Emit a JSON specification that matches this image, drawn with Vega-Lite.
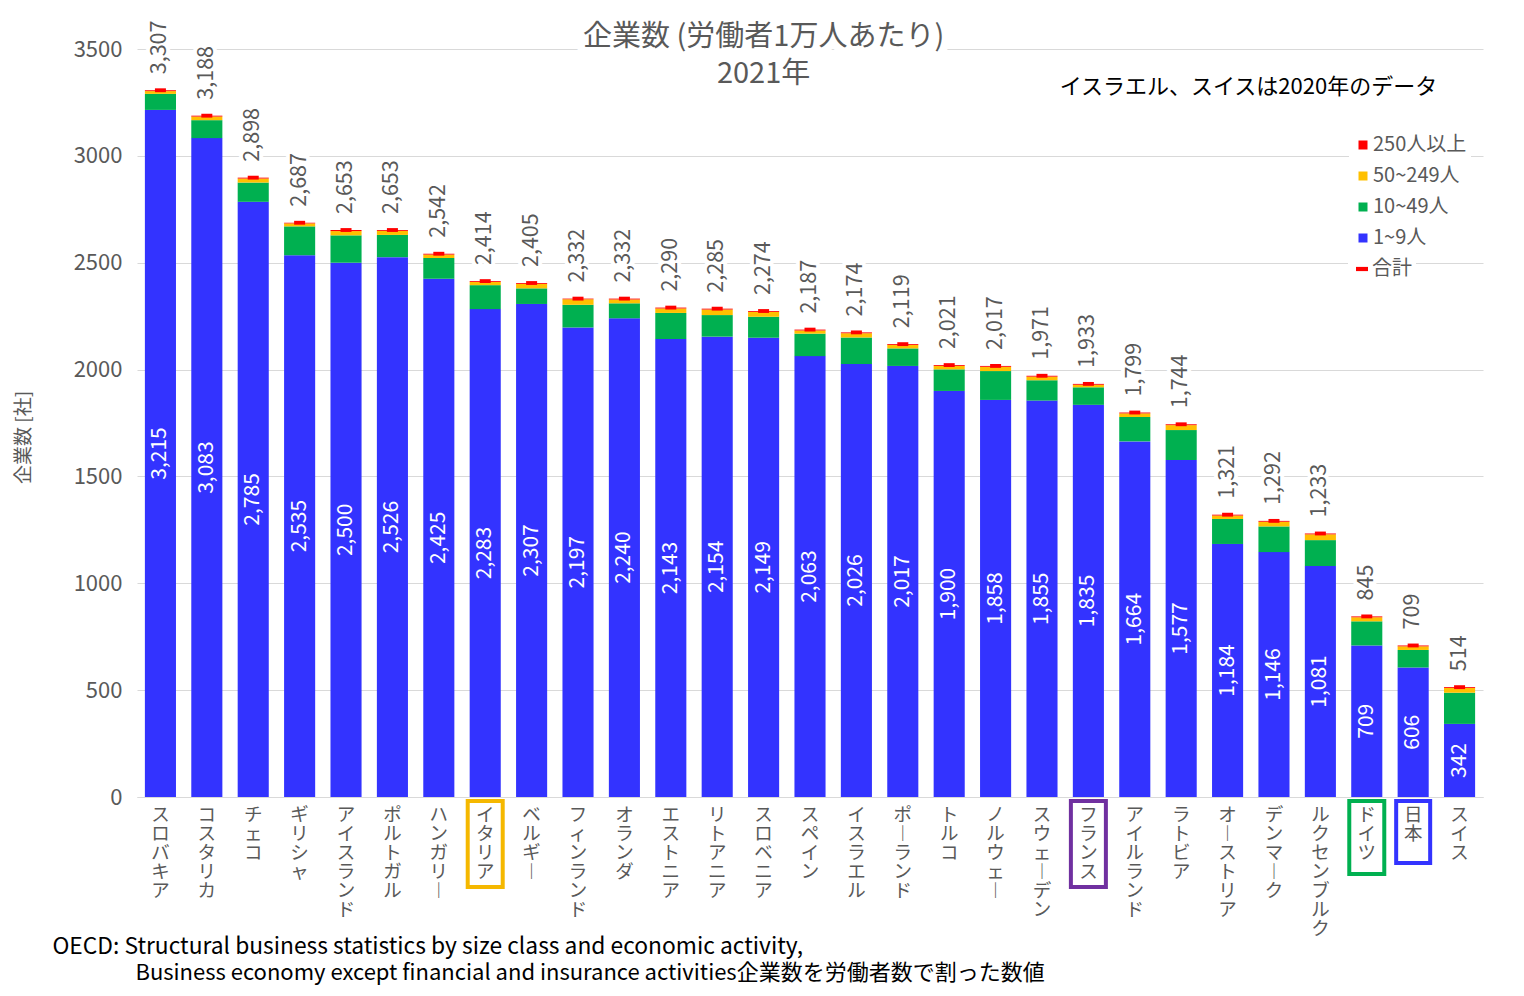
{
  "$schema": "https://vega.github.io/schema/vega-lite/v6.json",
  "width": 1346,
  "height": 748,
  "autosize": {"type": "none"},
  "padding": {"left": 137, "top": 49, "right": 41, "bottom": 199},
  "background": "white",
  "config": {
    "font": "Noto Sans CJK JP",
    "view": {"stroke": null},
    "axis": {"labelColor": "#595959", "titleColor": "#595959"}
  },
  "datasets": {
    "main": [
      {"country":"スロバキア","s1":3215,"s10":75,"s50":13,"s250":4,"total":3307},
      {"country":"コスタリカ","s1":3083,"s10":84,"s50":17,"s250":4,"total":3188},
      {"country":"チェコ","s1":2785,"s10":90,"s50":19,"s250":4,"total":2898},
      {"country":"ギリシャ","s1":2535,"s10":135,"s50":14,"s250":3,"total":2687},
      {"country":"アイスランド","s1":2500,"s10":128,"s50":20,"s250":5,"total":2653},
      {"country":"ポルトガル","s1":2526,"s10":104,"s50":19,"s250":4,"total":2653},
      {"country":"ハンガリー","s1":2425,"s10":97,"s50":16,"s250":4,"total":2542},
      {"country":"イタリア","s1":2283,"s10":112,"s50":15,"s250":4,"total":2414},
      {"country":"ベルギー","s1":2307,"s10":73,"s50":21,"s250":4,"total":2405},
      {"country":"フィンランド","s1":2197,"s10":106,"s50":26,"s250":3,"total":2332},
      {"country":"オランダ","s1":2240,"s10":70,"s50":18,"s250":4,"total":2332},
      {"country":"エストニア","s1":2143,"s10":122,"s50":21,"s250":4,"total":2290},
      {"country":"リトアニア","s1":2154,"s10":101,"s50":26,"s250":4,"total":2285},
      {"country":"スロベニア","s1":2149,"s10":98,"s50":23,"s250":4,"total":2274},
      {"country":"スペイン","s1":2063,"s10":105,"s50":15,"s250":4,"total":2187},
      {"country":"イスラエル","s1":2026,"s10":124,"s50":20,"s250":4,"total":2174},
      {"country":"ポーランド","s1":2017,"s10":82,"s50":16,"s250":4,"total":2119},
      {"country":"トルコ","s1":1900,"s10":101,"s50":16,"s250":4,"total":2021},
      {"country":"ノルウェー","s1":1858,"s10":135,"s50":20,"s250":4,"total":2017},
      {"country":"スウェーデン","s1":1855,"s10":95,"s50":17,"s250":4,"total":1971},
      {"country":"フランス","s1":1835,"s10":82,"s50":12,"s250":4,"total":1933},
      {"country":"アイルランド","s1":1664,"s10":114,"s50":17,"s250":4,"total":1799},
      {"country":"ラトビア","s1":1577,"s10":140,"s50":23,"s250":4,"total":1744},
      {"country":"オーストリア","s1":1184,"s10":117,"s50":16,"s250":4,"total":1321},
      {"country":"デンマーク","s1":1146,"s10":120,"s50":22,"s250":4,"total":1292},
      {"country":"ルクセンブルク","s1":1081,"s10":121,"s50":27,"s250":4,"total":1233},
      {"country":"ドイツ","s1":709,"s10":113,"s50":19,"s250":4,"total":845},
      {"country":"日本","s1":606,"s10":82,"s50":17,"s250":4,"total":709},
      {"country":"スイス","s1":342,"s10":146,"s50":22,"s250":4,"total":514}
    ],
    "sizes": [
      {"key":"s1","size":"1~9人","min":1},
      {"key":"s10","size":"10~49人","min":10},
      {"key":"s50","size":"50~249人","min":50},
      {"key":"s250","size":"250人以上","min":250}
    ]
  },
  "data": {"name": "main"},
  "encoding": {
    "x": {
      "field": "country", "type": "nominal", "sort": null,
      "scale": {
        "domain": ["スロバキア","コスタリカ","チェコ","ギリシャ","アイスランド","ポルトガル","ハンガリー","イタリア","ベルギー","フィンランド","オランダ","エストニア","リトアニア","スロベニア","スペイン","イスラエル","ポーランド","トルコ","ノルウェー","スウェーデン","フランス","アイルランド","ラトビア","オーストリア","デンマーク","ルクセンブルク","ドイツ","日本","スイス"],
        "paddingInner": 0.33, "paddingOuter": 0.17
      },
      "axis": {
        "title": null, "labelAngle": 0, "labelAlign": "center", "labelBaseline": "top",
        "labelFontSize": 18.5, "labelLineHeight": 19, "labelPadding": 8, "labelColor": "#595959",
        "ticks": false, "domainColor": "#d9d9d9", "domainWidth": 1, "labelLimit": 0,
        "labelExpr": "split(replace(datum.label, 'ー', '︱'), '')"
      }
    }
  },
  "layer": [
    {
      "transform": [
        {"fold": ["s1","s10","s50","s250"], "as": ["key","n"]},
        {"lookup": "key", "from": {"data": {"name": "sizes"}, "key": "key", "fields": ["size","min"]}}
      ],
      "mark": {"type": "bar"},
      "encoding": {
        "y": {
          "field": "n", "type": "quantitative", "stack": "zero",
          "scale": {"domain": [0, 3500], "nice": false},
          "axis": {
            "title": "企業数 [社]", "values": [0,500,1000,1500,2000,2500,3000,3500], "format": "d",
            "grid": true, "gridColor": "#d9d9d9", "domain": false, "ticks": false,
            "labelFontSize": 22, "labelPadding": 15, "titleFontSize": 19,
            "titleFontWeight": "normal", "titlePadding": 40, "titleY": 388
          }
        },
        "color": {
          "field": "size", "type": "nominal",
          "scale": {"domain": ["250人以上","50~249人","10~49人","1~9人"], "range": ["#ff0000","#ffc000","#00b050","#3333ff"]},
          "legend": {
            "title": null, "orient": "none", "legendX": 1212, "legendY": 82,
            "symbolType": "square", "symbolSize": 81, "symbolStrokeWidth": 0,
            "labelFontSize": 20, "labelColor": "#595959", "rowPadding": 11,
            "labelOffset": 0, "fillColor": "white", "padding": 4
          }
        },
        "order": {"field": "min", "type": "quantitative", "sort": "ascending"}
      }
    },
    {
      "data": {"values": [{"country": "イタリア"}, {"country": "フランス"}]},
      "mark": {"type": "bar", "width": 35, "fill": "white", "fillOpacity": 0, "strokeWidth": 4},
      "encoding": {
        "y": {"datum": -19, "type": "quantitative", "scale": {"domain": [0, 3500], "nice": false}, "axis": null},
        "y2": {"datum": -421},
        "stroke": {"field": "country", "type": "nominal", "scale": {"domain": ["イタリア","フランス","ドイツ","日本"], "range": ["#f5b800","#7030a0","#00b050","#3333ff"]}, "legend": null}
      }
    },
    {
      "data": {"values": [{"country": "ドイツ"}]},
      "mark": {"type": "bar", "width": 35, "fill": "white", "fillOpacity": 0, "strokeWidth": 4},
      "encoding": {
        "y": {"datum": -19, "type": "quantitative", "scale": {"domain": [0, 3500], "nice": false}, "axis": null},
        "y2": {"datum": -360},
        "stroke": {"field": "country", "type": "nominal", "legend": null}
      }
    },
    {
      "data": {"values": [{"country": "日本"}]},
      "mark": {"type": "bar", "width": 34, "fill": "white", "fillOpacity": 0, "strokeWidth": 4},
      "encoding": {
        "y": {"datum": -19, "type": "quantitative", "scale": {"domain": [0, 3500], "nice": false}, "axis": null},
        "y2": {"datum": -309},
        "stroke": {"field": "country", "type": "nominal", "legend": null}
      }
    },
    {
      "mark": {"type": "point", "filled": true, "color": "#ff0000", "opacity": 1, "size": 121, "strokeWidth": 0},
      "encoding": {
        "y": {"field": "total", "type": "quantitative", "scale": {"domain": [0, 3500], "nice": false}, "axis": null},
        "shape": {
          "datum": "合計", "type": "nominal",
          "scale": {"range": ["M-1,-0.35H1V0.35H-1Z"]},
          "legend": {
            "title": null, "orient": "none", "legendX": 1211, "legendY": 206,
            "symbolSize": 144, "symbolFillColor": "#ff0000", "symbolStrokeWidth": 0,
            "labelFontSize": 20, "labelColor": "#595959", "labelOffset": 0,
            "fillColor": "white", "padding": 4
          }
        }
      }
    },
    {
      "mark": {"type": "text", "angle": 270, "align": "left", "baseline": "middle", "dx": 16, "fontSize": 21.5, "fill": "white", "stroke": "white", "strokeWidth": 8, "strokeJoin": "round"},
      "encoding": {
        "y": {"field": "total", "type": "quantitative", "scale": {"domain": [0, 3500], "nice": false}, "axis": null},
        "text": {"field": "total", "type": "quantitative", "format": ","}
      }
    },
    {
      "mark": {"type": "text", "angle": 270, "align": "left", "baseline": "middle", "dx": 16, "fontSize": 21.5, "fill": "#595959"},
      "encoding": {
        "y": {"field": "total", "type": "quantitative", "scale": {"domain": [0, 3500], "nice": false}, "axis": null},
        "text": {"field": "total", "type": "quantitative", "format": ","}
      }
    },
    {
      "data": {"values": [{}]},
      "mark": {"type": "text", "text": ["企業数 (労働者1万人あたり)", "2021年"], "fontSize": 29, "lineHeight": 37, "align": "center", "baseline": "middle", "fill": "white", "stroke": "white", "strokeWidth": 16, "strokeJoin": "round"},
      "encoding": {
        "x": {"datum": "スロベニア", "type": "nominal"},
        "y": {"datum": 3557, "type": "quantitative", "scale": {"domain": [0, 3500], "nice": false}, "axis": null}
      }
    },
    {
      "data": {"values": [{}]},
      "mark": {"type": "text", "text": ["企業数 (労働者1万人あたり)", "2021年"], "fontSize": 29, "lineHeight": 37, "align": "center", "baseline": "middle", "fill": "#595959"},
      "encoding": {
        "x": {"datum": "スロベニア", "type": "nominal"},
        "y": {"datum": 3557, "type": "quantitative", "scale": {"domain": [0, 3500], "nice": false}, "axis": null}
      }
    },
    {
      "data": {"values": [{}]},
      "mark": {"type": "text", "text": "イスラエル、スイスは2020年のデータ", "fontSize": 22, "align": "right", "baseline": "middle", "dx": 24, "fill": "#000000"},
      "encoding": {
        "x": {"datum": "日本", "type": "nominal"},
        "y": {"datum": 3322, "type": "quantitative", "scale": {"domain": [0, 3500], "nice": false}, "axis": null}
      }
    },
    {
      "data": {"values": [{}]},
      "mark": {"type": "text", "text": "OECD: Structural business statistics by size class and economic activity,", "fontSize": 22.8, "align": "left", "baseline": "middle", "dx": -108, "fill": "#000000"},
      "encoding": {
        "x": {"datum": "スロバキア", "type": "nominal"},
        "y": {"datum": -702, "type": "quantitative", "scale": {"domain": [0, 3500], "nice": false}, "axis": null}
      }
    },
    {
      "data": {"values": [{}]},
      "mark": {"type": "text", "text": "Business economy except financial and insurance activities企業数を労働者数で割った数値", "fontSize": 22, "align": "left", "baseline": "middle", "dx": -25, "fill": "#000000"},
      "encoding": {
        "x": {"datum": "スロバキア", "type": "nominal"},
        "y": {"datum": -824, "type": "quantitative", "scale": {"domain": [0, 3500], "nice": false}, "axis": null}
      }
    },
    {
      "mark": {"type": "text", "angle": 270, "align": "center", "baseline": "middle", "fontSize": 21, "fill": "white"},
      "encoding": {
        "y": {"field": "s1", "type": "quantitative", "scale": {"domain": [0, 7000], "nice": false}, "axis": null},
        "text": {"field": "s1", "type": "quantitative", "format": ","}
      }
    }
  ],
  "resolve": {"scale": {"y": "independent"}}
}
